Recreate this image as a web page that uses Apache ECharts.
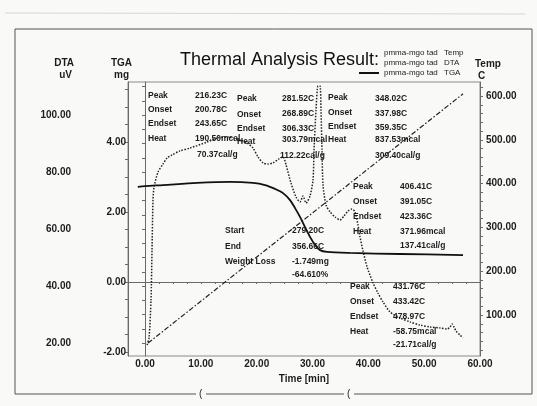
<!DOCTYPE html>
<html><head><meta charset="utf-8">
<script src="https://cdn.jsdelivr.net/npm/echarts@6/dist/echarts.min.js"></script>
<style>html,body{margin:0;padding:0;background:#f9f9f8}#c{width:537px;height:406px}</style>
</head><body><div id="c"></div>
<script>
// ---- tick labels ----
const xTicks = [0, 10, 20, 30, 40, 50, 60];
const dtaTicks = [20, 40, 60, 80, 100];
const tgaTicks = [-2, 0, 2, 4];
const tempTicks = [100, 200, 300, 400, 500, 600];

// ---- series data (time in min) ----
const legendPrefix = 'pmma-mgo tad';
const seriesNames = ['Temp', 'DTA', 'TGA'];

const tempTime  = [0.54, 56.96];
const tempValue = [36, 605];

const dtaTime  = [0.36,0.72,1.07,1.25,1.43,1.61,2.33,3.22,3.94,4.84,6.27,8.06,11.11,12.90,14.87,17.02,18.27,19.34,20.24,21.14,22.03,22.93,24.00,24.72,25.26,26.15,27.05,27.76,28.30,28.84,29.55,30.09,30.27,30.63,30.99,31.35,31.52,31.70,31.88,32.42,33.14,34.03,34.93,35.64,36.36,37.08,37.61,38.15,38.51,39.05,39.77,40.84,41.73,42.63,43.88,45.67,47.47,49.26,51.05,52.84,54.09,54.63,54.99,55.35,55.71,56.42,56.96];
const dtaValue = [19.3,21.8,35.1,52.6,70.2,74.7,80.0,82.8,84.9,86.0,87.4,88.4,90.5,91.9,92.3,91.2,90.2,88.4,85.3,83.2,82.8,83.2,84.6,85.3,82.5,76.1,71.2,69.5,71.6,69.1,71.6,77.2,87.7,101.8,110.2,110.2,101.8,87.7,75.4,68.4,66.0,64.2,63.2,64.6,66.3,67.0,66.0,61.4,57.2,52.3,46.7,41.1,37.5,34.4,30.9,28.8,27.4,26.3,25.6,25.3,24.9,25.6,26.7,25.6,24.2,22.8,21.8];

const tgaTime  = [-1.3,0,3.22,9.31,15.22,19.34,21.49,23.29,24.72,25.97,26.87,27.76,28.66,29.55,30.45,31.35,32.6,36.72,45.67,56.96];
const tgaValue = [2.72,2.74,2.77,2.83,2.86,2.83,2.77,2.66,2.54,2.34,2.11,1.86,1.57,1.29,1.06,0.91,0.86,0.83,0.80,0.77];

// ---- annotation texts ----
const peakLabels = ['Peak', 'Onset', 'Endset', 'Heat'];
const peak1 = ['216.23C', '200.78C', '243.65C', '190.50mcal', '70.37cal/g'];
const peak2 = ['281.52C', '268.89C', '306.33C', '303.79mcal', '112.22cal/g'];
const peak3 = ['348.02C', '337.98C', '359.35C', '837.53mcal', '309.40cal/g'];
const peak4 = ['406.41C', '391.05C', '423.36C', '371.96mcal', '137.41cal/g'];
const peak5 = ['431.76C', '433.42C', '478.97C', '-58.75mcal', '-21.71cal/g'];
const wlLabels = ['Start', 'End', 'Weight Loss'];
const wlValues = ['279.20C', '356.66C', '-1.749mg', '-64.610%'];

function zip(a, b) { return a.map((v, i) => [v, b[i]]); }
function steps(a, b, s) { const r = []; for (let v = a; v <= b + 1e-9; v += s) r.push(+v.toFixed(4)); return r; }

const FONT = '"Liberation Sans", Arial, sans-serif';
const INK = '#1c1c1c';
const lblStyle = { fontSize: 10, fontWeight: 'bold', color: INK, fontFamily: FONT };

function txt(x, y, s, opt) {
  opt = opt || {};
  return { type: 'text', x: x, y: y, z: 10, silent: true,
    style: { text: s, fill: INK, fontSize: opt.size || 8.5, fontWeight: opt.weight || 'bold',
      fontFamily: FONT, verticalAlign: 'middle', align: opt.align || 'left' } };
}
function block(lx, vx, ly, vy, labels, values, lastX) {
  const out = [];
  labels.forEach((s, i) => out.push(txt(lx, ly[i], s)));
  values.forEach((s, i) => out.push(txt((i === values.length - 1 && lastX) ? lastX : vx, vy[i], s)));
  return out;
}

const graphics = [].concat(
  block(148, 195, [96,110,124,139], [96,110,124,139,155], peakLabels, peak1, 197),
  block(237, 282, [99,115,129,142], [99,114,129,140,156], peakLabels, peak2, 280),
  block(328, 375, [98,113,127,140], [99,114,128,140,156], peakLabels, peak3),
  block(353, 400, [187,202,217,232], [187,202,217,232,246], peakLabels, peak4),
  block(225, 292, [231,247,262], [231,247,262,275], wlLabels, wlValues),
  block(350, 393, [287,302,317,332], [287,302,317,332,345], peakLabels, peak5),
  [
    txt(74, 63, 'DTA', {size: 10, align: 'right'}),
    txt(72, 75, 'uV', {size: 10, align: 'right'}),
    txt(132, 63, 'TGA', {size: 10, align: 'right'}),
    txt(129, 75, 'mg', {size: 10, align: 'right'}),
    txt(475, 64, 'Temp', {size: 10}),
    txt(478, 76, 'C', {size: 10}),
    { type: 'polyline', silent: true, shape: { points: [[15, 394], [15, 29], [532, 29], [532, 394]] },
      style: { stroke: '#555', lineWidth: 1, fill: null } },
    { type: 'line', silent: true, shape: { x1: 15, y1: 394, x2: 196, y2: 394 }, style: { stroke: '#555', lineWidth: 1 } },
    { type: 'line', silent: true, shape: { x1: 206, y1: 394, x2: 344, y2: 394 }, style: { stroke: '#555', lineWidth: 1 } },
    { type: 'line', silent: true, shape: { x1: 354, y1: 394, x2: 532, y2: 394 }, style: { stroke: '#555', lineWidth: 1 } },
    txt(199, 394, '(', {size: 10, weight: 'normal'}),
    txt(347, 394, '(', {size: 10, weight: 'normal'}),
    { type: 'line', silent: true, shape: { x1: 5, y1: 13, x2: 525, y2: 14 }, style: { stroke: '#d6d6d6', lineWidth: 1 } }
  ]
);

function yAx(ticks, min, max, pos, offset, minorStep, margin) {
  return {
    type: 'value', position: pos, offset: offset, min: min, max: max,
    axisLine: { show: true, lineStyle: { color: '#6a6a6a', width: 1 } },
    axisTick: { show: true, customValues: steps(Math.ceil(min / minorStep) * minorStep, max, minorStep), length: 3, lineStyle: { color: '#6a6a6a' } },
    axisLabel: Object.assign({ customValues: ticks, formatter: v => v.toFixed(2), margin: margin }, lblStyle),
    splitLine: { show: false }
  };
}

const chart = echarts.init(document.getElementById('c'), null, { renderer: 'canvas' });
chart.setOption({
  backgroundColor: '#f9f9f8',
  animation: false,
  color: ['#222', '#222', '#111'],
  title: { text: 'Thermal Analysis Result:', left: 175, top: 46,
    textStyle: { fontSize: 18, fontWeight: 'normal', color: '#111', fontFamily: FONT } },
  legend: {
    orient: 'vertical', left: 353, top: 44, itemWidth: 20, itemHeight: 8, itemGap: 2,
    itemStyle: { opacity: 0 },
    data: seriesNames.map((n, i) => i < 2
      ? { name: legendPrefix + ' ' + n, lineStyle: { opacity: 0 } }
      : { name: legendPrefix + ' ' + n }),
    formatter: name => '{a|' + legendPrefix + '}{b|' + name.slice(legendPrefix.length + 1) + '}',
    textStyle: { fontSize: 8, color: INK, fontFamily: FONT,
      rich: { a: { width: 60, fontSize: 8, fontFamily: FONT, color: INK }, b: { fontSize: 8, fontFamily: FONT, color: INK } } }
  },
  grid: { left: 128, right: 57, top: 82, bottom: 50, show: true, borderColor: '#8a8a8a', borderWidth: 1 },
  xAxis: {
    type: 'value', min: -3.05, max: 60,
    axisLine: { show: true, lineStyle: { color: '#6a6a6a' } },
    axisTick: { show: true, customValues: steps(0, 60, 2.5), length: 2, lineStyle: { color: '#6a6a6a' } },
    axisLabel: Object.assign({ customValues: xTicks, formatter: v => v.toFixed(2), margin: 3 }, lblStyle),
    splitLine: { show: false },
    name: 'Time [min]', nameLocation: 'middle', nameGap: 16,
    nameTextStyle: { fontSize: 10, fontWeight: 'bold', color: INK, fontFamily: FONT }
  },
  yAxis: [
    yAx(dtaTicks, 15.44, 111.58, 'left', 55, 5, 2),
    yAx(tgaTicks, -2.114, 5.714, 'left', 0, 0.5, 2),
    yAx(tempTicks, 6.4, 632, 'right', 0, 20, 6)
  ],
  graphic: graphics,
  series: [
    { name: legendPrefix + ' ' + seriesNames[0], type: 'line', yAxisIndex: 2, symbol: 'none',
      data: zip(tempTime, tempValue), itemStyle: { color: '#222' },
      lineStyle: { color: '#222', width: 1.2, type: [5, 2, 1.5, 2] } },
    { name: legendPrefix + ' ' + seriesNames[1], type: 'line', yAxisIndex: 0, symbol: 'none', smooth: 0.25,
      data: zip(dtaTime, dtaValue), itemStyle: { color: '#222' },
      lineStyle: { color: '#222', width: 1.5, type: [1.5, 1.5] } },
    { name: legendPrefix + ' ' + seriesNames[2], type: 'line', yAxisIndex: 1, symbol: 'none', smooth: 0.3,
      data: zip(tgaTime, tgaValue), itemStyle: { color: '#111' },
      lineStyle: { color: '#111', width: 1.8, type: 'solid' } }
  ]
});
</script></body></html>
